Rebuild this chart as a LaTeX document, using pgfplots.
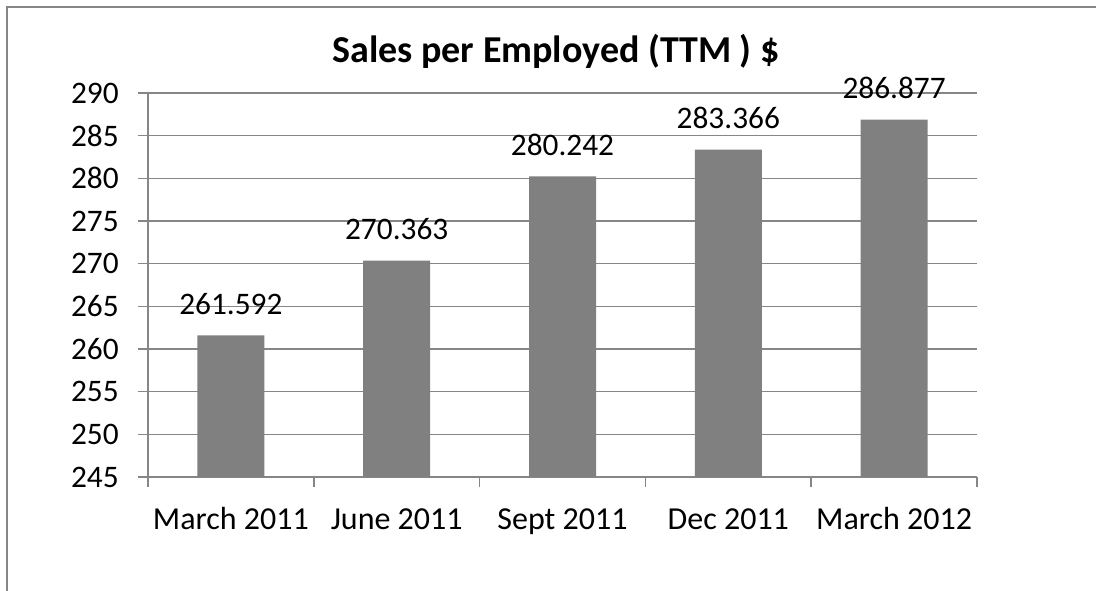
\documentclass[border=0pt]{standalone}
\usepackage{pgfplots}
\pgfplotsset{compat=1.18}
\usepackage{fontspec}
\setmainfont{Carlito}
\definecolor{linegray}{RGB}{134,134,134}
\definecolor{bargray}{RGB}{128,128,128}
\begin{document}
\begin{tikzpicture}
% 1 px of the reference = 0.75pt
\useasboundingbox (0,0) rectangle (822pt,442.5pt);
\begin{scope}
\clip (0,0) rectangle (822pt,442.5pt);
\draw[linegray, line width=1.5pt] (5.25pt,-5pt) -- (5.25pt,437.25pt) -- (830pt,437.25pt);
\end{scope}
\node[anchor=base, font=\fontsize{28.5}{32}\selectfont\bfseries] at (417pt,395.25pt) {Sales per Employed (TTM ) \$};
\begin{axis}[
  at={(111pt,84.75pt)}, anchor=south west,
  scale only axis, width=621.75pt, height=288pt,
  xmin=-0.5, xmax=4.5, ymin=245, ymax=290,
  ytick={245,250,...,290},
  xtick={0,1,2,3,4},
  xticklabels={March 2011,June 2011,Sept 2011,Dec 2011,March 2012},
  minor xtick={-0.5,0.5,1.5,2.5,3.5,4.5},
  major x tick style={draw=none},
  tick align=outside, major tick length=7.5pt, minor tick length=7.5pt,
  tick style={linegray, line width=1.1pt},
  axis lines*=left,
  axis line style={-, linegray, line width=1.1pt},
  ymajorgrids, grid style={linegray, line width=1.1pt},
  /pgf/number format/assume math mode=true,
  yticklabel style={font=\fontsize{23.5}{28}\selectfont, anchor=east, inner sep=0pt, xshift=-14.25pt},
  xticklabel style={font=\fontsize{24}{28}\selectfont, anchor=base, inner sep=0pt, yshift=-32pt},
  ybar, bar width=50.25pt,
  nodes near coords, point meta=explicit symbolic,
  every node near coord/.append style={anchor=base, inner sep=0pt, yshift=15.75pt, font=\fontsize{23.5}{28}\selectfont},
]
\addplot[fill=bargray, draw=none] coordinates {
  (0,261.592) [261.592]
  (1,270.363) [270.363]
  (2,280.242) [280.242]
  (3,283.366) [283.366]
  (4,286.877) [286.877]
};
\end{axis}
\end{tikzpicture}
\end{document}
